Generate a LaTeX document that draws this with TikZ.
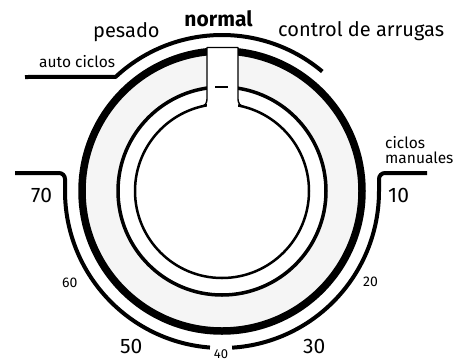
\documentclass[tikz,border=0pt]{standalone}
\usepackage{fontspec}
\setmainfont{Fira Sans}
\usetikzlibrary{calc}

\begin{document}
\begin{tikzpicture}[x=1pt, y=-1pt, line join=round, every node/.style={inner sep=0pt},
	big/.style={font=\fontsize{21}{23}\selectfont},
	mid/.style={font=\fontsize{20}{22}\selectfont},
	tag/.style={font=\fontsize{15.5}{15}\selectfont},
	small/.style={font=\fontsize{14}{15}\selectfont},
	guide/.style={line width=4pt}]
	\useasboundingbox (0,0) rectangle (460,362);
	\coordinate (c) at (222,191);
	% knob
	\fill[black!4, even odd rule] (c) circle[radius=140pt] (c) circle[radius=104pt];
	\draw[line width=7.5pt] (c) circle[radius=140pt];
	\draw[line width=3.5pt] (c) circle[radius=104pt];
	\draw[line width=2.5pt] (c) circle[radius=87pt];
	% slot
	\fill[white] (207,47.5) rectangle (238,107.5);
	\draw[line width=1.4pt] (201,106.6) .. controls (205,106) and (207,103) .. (207,99) -- (207,47.5)
	  -- (238,47.5) -- (238,99) .. controls (238,103) and (240,106) .. (244,106.6);
	\draw[line width=1.2pt] (215,87) -- (228,87);
	% guides
	\draw[guide] (25,77) -- ($(c)+(133:156pt)$) arc[start angle=133, end angle=50, radius=156pt];
	\draw[guide] (15,173) -- (59,173) arc[start angle=90, end angle=0, radius=6pt] -- (65,191)
	  arc[start angle=180, end angle=265.6, radius=157pt];
	\draw[guide] ($(c)+(273.7:157pt)$) arc[start angle=273.7, end angle=360, radius=157pt]
	  -- (379,179) arc[start angle=180, end angle=90, radius=6pt] -- (427,173);
	% labels
	\node[big, anchor=base] (normal) at (218.5,26) {\bfseries normal};
	\node[mid, anchor=base west] (pesado) at (93,37.5) {pesado};
	\node[mid, anchor=base west] (arrugas) at (278,36) {control de arrugas};
	\node[tag, anchor=base west] (auto) at (39,67) {auto ciclos};
	\node[tag, anchor=north west, align=left] (manual) at (385,136) {ciclos\\manuales};
	\node[big, anchor=base west] (n70) at (31,202) {70};
	\node[big, anchor=base west] (n10) at (388,202) {10};
	\node[big, anchor=base west] (n50) at (120,353) {50};
	\node[big, anchor=base west] (n30) at (303,353) {30};
	\node[small, anchor=base west] (n60) at (62,287) {60};
	\node[small, anchor=base west] (n20) at (363,286) {20};
	\node[small, font=\fontsize{13}{14}\selectfont, anchor=base] (n40) at (221,358) {40};
\end{tikzpicture}
\end{document}
